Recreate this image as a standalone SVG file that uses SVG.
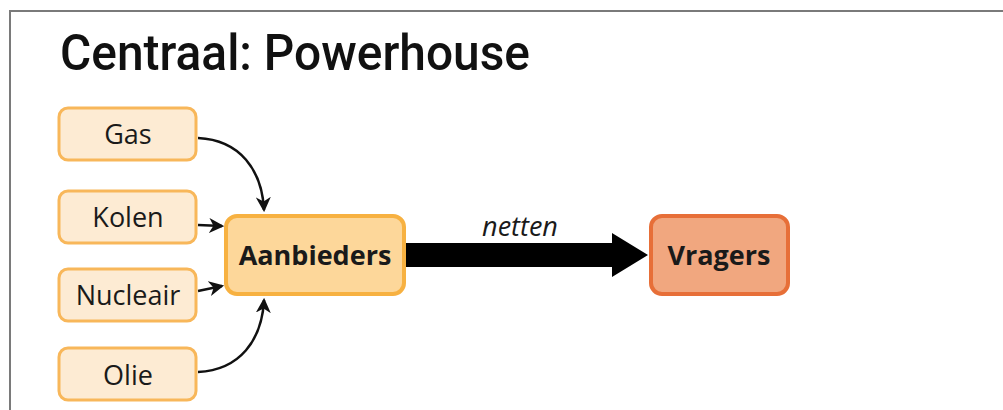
<svg xmlns="http://www.w3.org/2000/svg" width="1003" height="410" viewBox="0 0 1003 410">
<defs>
<style>
.src rect{fill:#FDEBD3;stroke:#F8B75A;stroke-width:3}
.lbl{font-family:"Open Sans","Liberation Sans",sans-serif;font-size:27px;fill:#1a1a1a;text-anchor:middle}
.b{font-weight:bold}
.con{fill:none;stroke:#111;stroke-width:2.5}
</style>
<marker id="ah" viewBox="0 0 14 14" refX="12" refY="7" markerWidth="15" markerHeight="15" markerUnits="userSpaceOnUse" orient="auto">
<path d="M0,0 L14,7 L0,14 L4,7 Z" fill="#111"/>
</marker>
</defs>
<rect width="1003" height="410" fill="#fff"/>
<path d="M10,420 L10,11 L1010,11" fill="none" stroke="#7a7a7a" stroke-width="2"/>
<text x="60" y="70" font-family="Roboto,'Liberation Sans',sans-serif" font-weight="500" font-size="50" fill="#111" textLength="470" lengthAdjust="spacingAndGlyphs">Centraal: Powerhouse</text>
<g id="connectors">
<path class="con" d="M198,138 C240,140 262,170 264,210" marker-end="url(#ah)"/>
<path class="con" d="M198,225 L222,226" marker-end="url(#ah)"/>
<path class="con" d="M198,291 L222,286" marker-end="url(#ah)"/>
<path class="con" d="M198,372 C240,370 262,340 264,300" marker-end="url(#ah)"/>
<path d="M406,243 L612,243 L612,233 L648,255 L612,277 L612,267 L406,267 Z" fill="#000"/>
<text x="520" y="236" class="lbl" font-style="italic" font-size="24">netten</text>
</g>
<g id="gas" class="src"><rect x="59" y="108" width="137" height="52" rx="9"/><text class="lbl" x="128" y="144">Gas</text></g>
<g id="kolen" class="src"><rect x="59" y="191" width="137" height="52" rx="9"/><text class="lbl" x="128" y="227">Kolen</text></g>
<g id="nucleair" class="src"><rect x="59" y="269" width="137" height="52" rx="9"/><text class="lbl" x="128" y="305">Nucleair</text></g>
<g id="olie" class="src"><rect x="59" y="348" width="137" height="52" rx="9"/><text class="lbl" x="128" y="385">Olie</text></g>
<g id="aanbieders"><rect x="226" y="216" width="178" height="78" rx="11" fill="#FDD79A" stroke="#F7B141" stroke-width="4"/><text class="lbl b" x="315" y="265">Aanbieders</text></g>
<g id="vragers"><rect x="651" y="216" width="137" height="78" rx="11" fill="#F1A77F" stroke="#E76F38" stroke-width="4"/><text class="lbl b" x="719" y="265">Vragers</text></g>
</svg>
